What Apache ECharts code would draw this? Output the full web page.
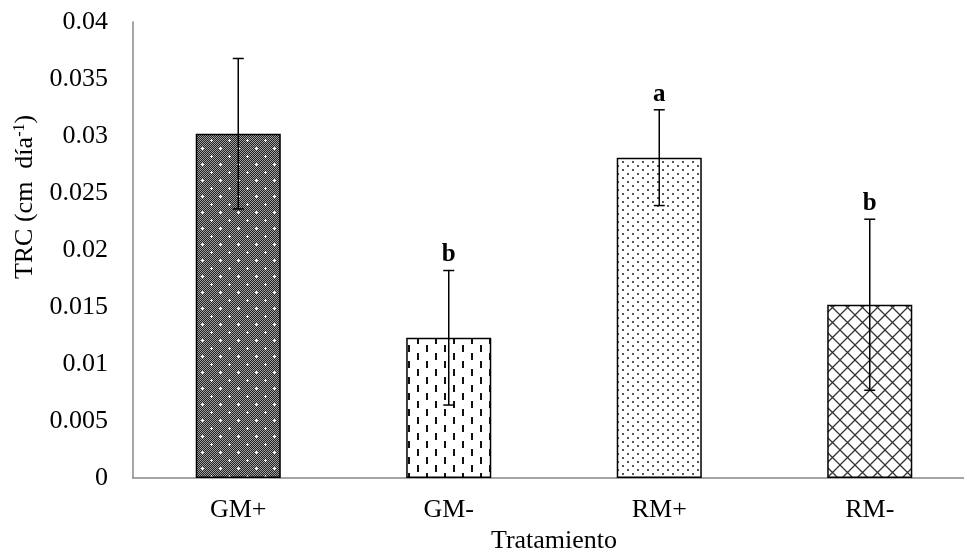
<!DOCTYPE html>
<html>
<head>
<meta charset="utf-8">
<script src="https://cdn.jsdelivr.net/npm/echarts@6/dist/echarts.min.js"></script>
<style>
  html, body { margin: 0; padding: 0; background: #fff; }
  #chart { width: 964px; height: 552px; }
</style>
</head>
<body>
<div id="chart"></div>
<script>
// data
const categories = ['GM+', 'GM-', 'RM+', 'RM-'];
const trcMeans = [0.0302, 0.0123, 0.0281, 0.0152];
const trcErrors = [0.0066, 0.0059, 0.0042, 0.0075];
const letters = ['', 'b', 'a', 'b'];

const FONT = '"Liberation Serif", "Times New Roman", serif';

// fill patterns, one per bar
function tile(w, h, draw) {
  const c = document.createElement('canvas');
  c.width = w; c.height = h;
  const ctx = c.getContext('2d');
  ctx.fillStyle = '#fff';
  ctx.fillRect(0, 0, w, h);
  draw(ctx);
  return { image: c, repeat: 'repeat' };
}

const patterns = [
  // dark checker with white dots
  tile(18, 16, ctx => {
    for (let y = 0; y < 16; y++)
      for (let x = 0; x < 18; x++) {
        ctx.fillStyle = (x + y) % 2 ? '#222' : '#a0a0a0';
        ctx.fillRect(x, y, 1, 1);
      }
    ctx.fillStyle = '#fff';
    [[4, 4], [13, 12]].forEach(([x, y]) => {
      ctx.fillRect(x - 1, y, 3, 1);
      ctx.fillRect(x, y - 1, 1, 3);
    });
  }),
  // vertical dashes
  tile(18, 16, ctx => {
    ctx.fillStyle = '#111';
    ctx.fillRect(3, 1, 2, 7);
    ctx.fillRect(12, 9, 2, 7);
  }),
  // small dots
  tile(10, 8, ctx => {
    ctx.fillStyle = '#555';
    ctx.fillRect(2, 1, 2, 2);
    ctx.fillRect(7, 5, 2, 2);
  }),
  // diagonal crosshatch
  tile(15, 15, ctx => {
    ctx.strokeStyle = '#333';
    ctx.lineWidth = 1.3;
    ctx.beginPath();
    ctx.moveTo(-1, -1); ctx.lineTo(16, 16);
    ctx.moveTo(16, -1); ctx.lineTo(-1, 16);
    ctx.stroke();
  })
];

const chart = echarts.init(document.getElementById('chart'));

chart.setOption({
  backgroundColor: '#fff',
  animation: false,
  grid: { left: 133, right: -11, top: 22, bottom: 74, outerBoundsMode: 'none' },
  xAxis: {
    type: 'category',
    data: categories,
    name: 'Tratamiento',
    nameLocation: 'middle',
    nameGap: 49,
    nameTextStyle: { fontFamily: FONT, fontSize: 26, color: '#000' },
    axisLine: { lineStyle: { color: '#888', width: 1.5 } },
    axisTick: { show: false },
    axisLabel: { fontFamily: FONT, fontSize: 26, color: '#000', margin: 19 }
  },
  yAxis: {
    type: 'value',
    min: 0,
    max: 0.04,
    interval: 0.005,
    axisLine: { show: true, lineStyle: { color: '#888', width: 1.5 } },
    axisTick: { show: false },
    splitLine: { show: false },
    axisLabel: { fontFamily: FONT, fontSize: 26, color: '#000', margin: 25 }
  },
  graphic: [{
    type: 'text',
    x: 25,
    y: 197,
    rotation: Math.PI / 2,
    style: {
      text: '{n|TRC (cm  día}{s|-1}{n|)}',
      align: 'center',
      verticalAlign: 'middle',
      rich: {
        n: { fontFamily: FONT, fontSize: 26, fill: '#000' },
        s: { fontFamily: FONT, fontSize: 16, fill: '#000', padding: [0, 0, 11, 0] }
      }
    }
  }],
  series: [
    {
      type: 'bar',
      barWidth: '40.4%',
      data: trcMeans.map((v, i) => ({
        value: v,
        itemStyle: { color: patterns[i] }
      })),
      itemStyle: { borderColor: '#000', borderWidth: 1.5 }
    },
    {
      type: 'custom',
      data: trcMeans.map((v, i) => [i, v, trcErrors[i]]),
      z: 10,
      renderItem(params, api) {
        const i = api.value(0);
        const mean = api.value(1);
        const err = api.value(2);
        const hi = api.coord([i, mean + err]);
        const lo = api.coord([i, mean - err]);
        const hw = 5.5;
        const line = { stroke: '#000', lineWidth: 1.5 };
        const kids = [
          { type: 'line', shape: { x1: hi[0], y1: hi[1], x2: lo[0], y2: lo[1] }, style: line },
          { type: 'line', shape: { x1: hi[0] - hw, y1: hi[1], x2: hi[0] + hw, y2: hi[1] }, style: line },
          { type: 'line', shape: { x1: lo[0] - hw, y1: lo[1], x2: lo[0] + hw, y2: lo[1] }, style: line }
        ];
        if (letters[i]) {
          kids.push({
            type: 'text',
            x: hi[0],
            y: hi[1] - 3,
            style: {
              text: letters[i],
              align: 'center',
              verticalAlign: 'bottom',
              font: 'bold 25px ' + FONT,
              fill: '#000'
            }
          });
        }
        return { type: 'group', children: kids };
      }
    }
  ]
});
</script>
</body>
</html>
